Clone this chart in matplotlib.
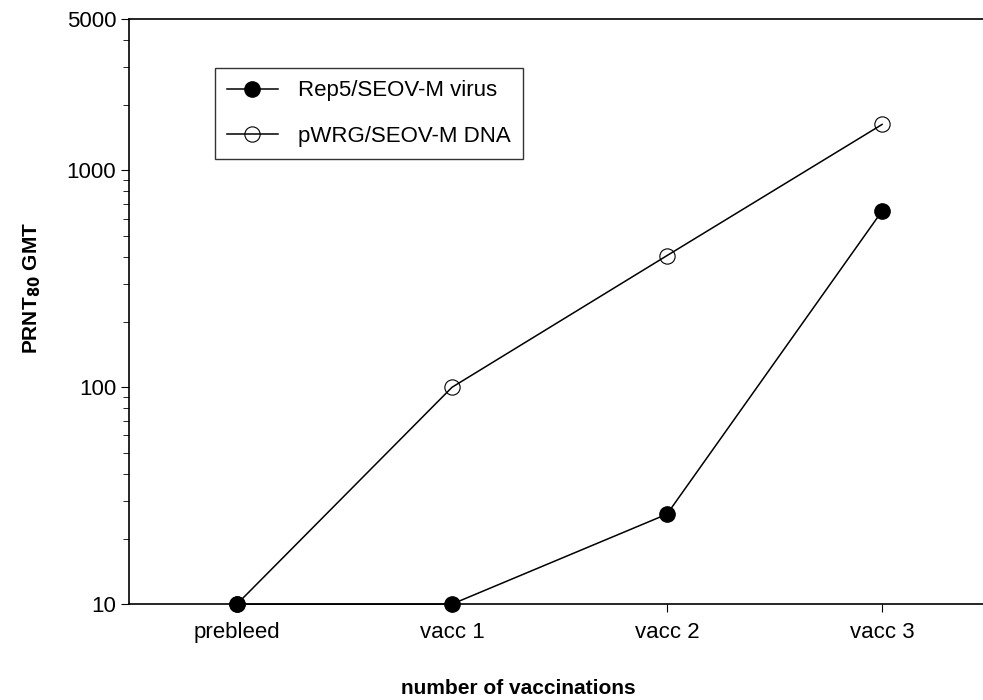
import matplotlib.pyplot as plt
import numpy as np

plt.rcParams['font.family'] = ['Liberation Sans', 'DejaVu Sans']

# Data
stages = ['prebleed', 'vacc 1', 'vacc 2', 'vacc 3']
virus_gmt = [10, 10, 26, 650]
dna_gmt = [10, 100, 405, 1630]

x = np.arange(len(stages))

fig = plt.figure(figsize=(9.83, 7), dpi=100)
ax = fig.add_axes([0.1317, 0.137, 0.875, 0.836])

ax.plot(x, dna_gmt, color='black', lw=1.1, marker='o', ms=11,
        mfc='none', mec='black', mew=0.8, label='pWRG/SEOV-M DNA',
        clip_on=False, zorder=3)
ax.plot(x, virus_gmt, color='black', lw=1.1, marker='o', ms=11,
        mfc='black', mec='black', label='Rep5/SEOV-M virus',
        clip_on=False, zorder=4)

ax.set_yscale('log')
ax.set_ylim(10, 5000)
ax.set_xlim(-0.5, 3.5)
ax.set_yticks([10, 100, 1000, 5000])
ax.set_yticklabels(['10', '100', '1000', '5000'])
ax.set_xticks(x)
ax.set_xticklabels(stages)
ax.tick_params(axis='both', labelsize=16, width=0.8, length=6, direction='out')
ax.tick_params(axis='y', which='minor', length=4, width=0.6)
ax.tick_params(axis='x', pad=7)

for s in ax.spines.values():
    s.set_linewidth(1.2)

ax.set_ylabel('PRNT$_{\\mathbf{80}}$ GMT', fontsize=15, fontweight='bold')
ax.yaxis.set_label_coords(-0.101, 0.54)
fig.text(0.527, 0.016, 'number of vaccinations', ha='center', va='center',
         fontsize=15, fontweight='bold')

handles, labels = ax.get_legend_handles_labels()
leg = ax.legend(handles[::-1], labels[::-1], loc='upper left',
                bbox_to_anchor=(0.099, 0.916), borderaxespad=0,
                fontsize=16, frameon=True, fancybox=False, edgecolor='black',
                handlelength=2.3, handletextpad=0.9, borderpad=0.55,
                labelspacing=1.1)
leg.get_frame().set_linewidth(1.0)

fig.savefig('out.png', dpi=100)
